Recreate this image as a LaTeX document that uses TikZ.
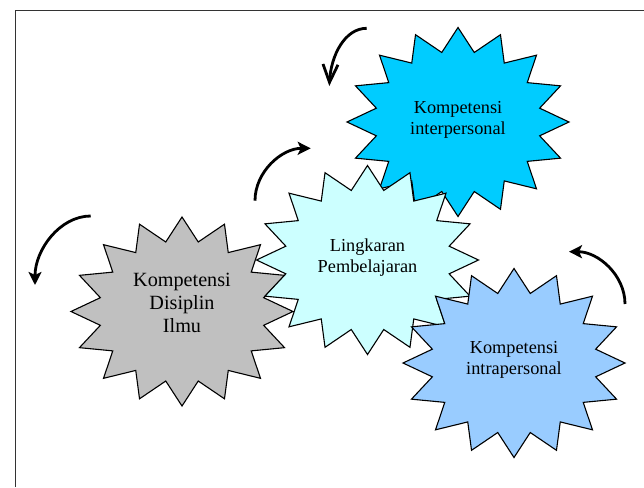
\documentclass[tikz,border=0pt]{standalone}
\usepackage{fontspec}
\setmainfont{Liberation Serif}
\usetikzlibrary{arrows.meta}
\definecolor{cyanstar}{HTML}{00CCFF}
\definecolor{lcyanstar}{HTML}{CCFFFF}
\definecolor{graystar}{HTML}{C0C0C0}
\definecolor{bluestar}{HTML}{99CCFF}
\definecolor{framecol}{HTML}{333333}
\tikzset{
  sealstar/.style={draw=black, line width=1.1pt, line join=miter},
  starlabel/.style={align=center, font=\fontsize{18.3}{21}\selectfont, inner sep=0pt},
  biglabel/.style={align=center, font=\fontsize{20.2}{23}\selectfont, inner sep=0pt},
  turnarrow/.style={line width=2.8pt, -{Stealth[length=13pt,width=13pt,inset=3pt]}},
  barbarrow/.style={line width=2.8pt, -{Straight Barb[length=18pt,width=15pt]}},
  framebox/.style={draw=framecol, line width=1.3pt}
}
\newcommand\drawseal[3]{%
  \path[sealstar, fill=#3, shift={(#1,#2)}]
    plot[samples=33, domain=0:32, variable=\t]
    ({111*(1-0.25*mod(round(\t),2))*cos(90+11.25*\t)},
     {-94.5*(1-0.25*mod(round(\t),2))*sin(90+11.25*\t)}) -- cycle;%
}
\begin{document}
\begin{tikzpicture}[x=1pt,y=-1pt]
\useasboundingbox (0,0) rectangle (644,487);
\fill[white] (0,0) rectangle (644,487);
% frame
\coordinate (fbl) at (15.5,487);
\coordinate (ftl) at (15.5,10.7);
\coordinate (ftr) at (644,10.7);
\draw[framebox] (fbl) -- (ftl) -- (ftr);
% stars (back to front)
\drawseal{182}{311.5}{graystar}
\drawseal{458}{122}{cyanstar}
\drawseal{367.5}{260}{lcyanstar}
\drawseal{514}{363}{bluestar}
% labels
\node[biglabel] (disiplin) at (182,303) {Kompetensi\\Disiplin\\Ilmu};
\node[starlabel] (inter) at (458,120) {Kompetensi\\interpersonal};
\node[starlabel] (lingkaran) at (367.5,258) {Lingkaran\\Pembelajaran};
\node[starlabel] (intra) at (514,360) {Kompetensi\\intrapersonal};
% arrows
\coordinate (a1s) at (366.7,28.3);
\coordinate (a1e) at (329.3,86);
\draw[barbarrow] (a1s) .. controls (345,28.3) and (331,55) .. (a1e);
\coordinate (a2s) at (255,200.7);
\coordinate (a2e) at (310.7,148.3);
\draw[turnarrow] (a2s) .. controls (255,171.7) and (281.7,148.3) .. (a2e);
\coordinate (a3s) at (90.7,216);
\coordinate (a3e) at (35,285);
\draw[turnarrow] (a3s) .. controls (59.7,216) and (35,250) .. (a3e);
\coordinate (a4s) at (625,304);
\coordinate (a4e) at (569,251.7);
\draw[turnarrow] (a4s) .. controls (625,275) and (598,251.7) .. (a4e);
\end{tikzpicture}
\end{document}
